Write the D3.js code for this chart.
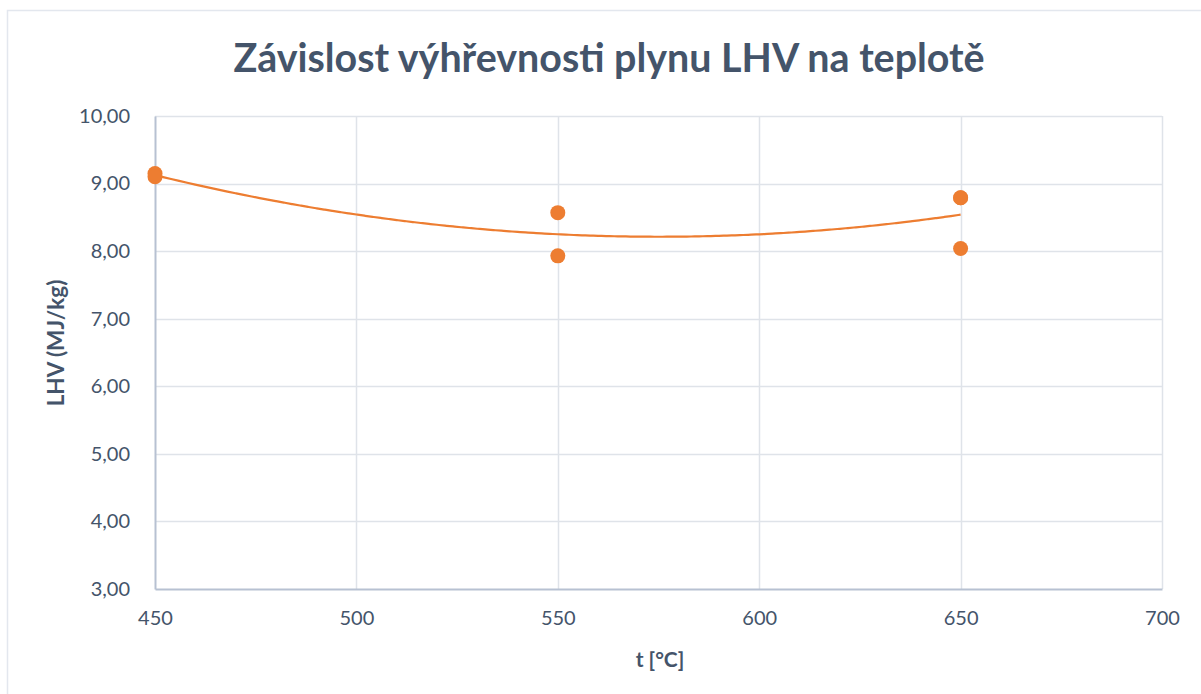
<!DOCTYPE html>
<html>
<head>
<meta charset="utf-8">
<script src="https://cdn.jsdelivr.net/npm/d3@7"></script>
<style>
  body { margin: 0; background: #fff; }
  text { font-family: Lato, "Open Sans", sans-serif; fill: #44546a; }
</style>
</head>
<body>
<div id="chart"></div>
<script>
// measured values (two runs at 450 and 550, three at 650)
let temps = [450, 450, 550, 550, 650, 650, 650];
let lhv = [9.15, 9.10, 8.57, 7.93, 8.79, 8.79, 8.04];

let xTicks = [450, 500, 550, 600, 650, 700];
let yTicks = [3, 4, 5, 6, 7, 8, 9, 10];

let title = "Závislost výhřevnosti plynu LHV na teplotě";
let xTitle = "t [°C]";
let yTitle = "LHV (MJ/kg)";

// least squares polynomial trend of order 2, like the spreadsheet trendline
function quad_fit(xs, ys) {
    let n = xs.length;
    let s = [0, 0, 0, 0, 0], t = [0, 0, 0];
    let x0 = d3.mean(xs);
    for (let i = 0; i < n; i++) {
        let u = xs[i] - x0;
        for (let k = 0; k < 5; k++) s[k] += Math.pow(u, k);
        for (let k = 0; k < 3; k++) t[k] += ys[i] * Math.pow(u, k);
    }
    let m = [[s[0], s[1], s[2], t[0]], [s[1], s[2], s[3], t[1]], [s[2], s[3], s[4], t[2]]];
    for (let c = 0; c < 3; c++) {
        for (let r = c + 1; r < 3; r++) {
            let f = m[r][c] / m[c][c];
            for (let k = c; k < 4; k++) m[r][k] -= f * m[c][k];
        }
    }
    let b = [0, 0, 0];
    for (let r = 2; r >= 0; r--) {
        let v = m[r][3];
        for (let k = r + 1; k < 3; k++) v -= m[r][k] * b[k];
        b[r] = v / m[r][r];
    }
    return x => { let u = x - x0; return b[0] + b[1] * u + b[2] * u * u; };
}

let W = 1201, H = 694;
let margin = {left: 155, right: 39, top: 116, bottom: 105};

let svg = d3.select("#chart").append("svg")
    .attr("width", W).attr("height", H);

svg.append("rect")
    .attr("x", 7.5).attr("y", 10.5)
    .attr("width", W + 10).attr("height", H + 10)
    .attr("fill", "none").attr("stroke", "#e3e7ee").attr("stroke-width", 1.5);

let x = d3.scaleLinear().domain([450, 700]).range([margin.left, W - margin.right]);
let y = d3.scaleLinear().domain([3, 10]).range([H - margin.bottom, margin.top]);

// grid
svg.append("g").selectAll("line").data(yTicks.slice(1)).join("line")
    .attr("x1", x(450)).attr("x2", x(700))
    .attr("y1", d => Math.round(y(d)) + 0.5).attr("y2", d => Math.round(y(d)) + 0.5)
    .attr("stroke", "#dfe3e9").attr("stroke-width", 1.5);
svg.append("g").selectAll("line").data(xTicks.slice(1)).join("line")
    .attr("x1", d => Math.round(x(d)) + 0.5).attr("x2", d => Math.round(x(d)) + 0.5)
    .attr("y1", y(3)).attr("y2", y(10))
    .attr("stroke", "#dfe3e9").attr("stroke-width", 1.5);

// axes
let fmt = d => d.toFixed(2).replace(".", ",");
let yAxis = svg.append("g")
    .attr("transform", `translate(${x(450)},0)`)
    .call(d3.axisLeft(y).tickValues(yTicks).tickFormat(fmt).tickSize(0).tickPadding(25));
let xAxis = svg.append("g")
    .attr("transform", `translate(0,${y(3)})`)
    .call(d3.axisBottom(x).tickValues(xTicks).tickFormat(d3.format("d")).tickSize(0).tickPadding(22));
[yAxis, xAxis].forEach(g => {
    g.select(".domain").attr("stroke", "#b7c1d2").attr("stroke-width", 2);
    g.selectAll("text").attr("font-size", 20).style("font-family", "Lato, sans-serif").attr("fill", "#44546a");
});

// trendline
let f = quad_fit(temps, lhv);
let xs = d3.range(450, 650.5, 2);
svg.append("path")
    .datum(xs)
    .attr("fill", "none").attr("stroke", "#ed7d31").attr("stroke-width", 2.2)
    .attr("d", d3.line().x(d => x(d)).y(d => y(f(d))).curve(d3.curveMonotoneX));

// points
svg.append("g").selectAll("circle").data(temps).join("circle")
    .attr("cx", d => x(d))
    .attr("cy", (d, i) => y(lhv[i]))
    .attr("r", 7.5)
    .attr("fill", "#ed7d31");

// titles
svg.append("text")
    .attr("x", 609).attr("y", 72)
    .attr("text-anchor", "middle")
    .attr("font-size", 39.4).attr("font-weight", "bold")
    .text(title);
svg.append("text")
    .attr("x", 660).attr("y", 667)
    .attr("text-anchor", "middle")
    .attr("font-size", 21).attr("font-weight", "bold")
    .text(xTitle);
svg.append("text")
    .attr("transform", "translate(64,343) rotate(-90)")
    .attr("text-anchor", "middle")
    .attr("font-size", 22.5).attr("font-weight", "bold")
    .text(yTitle);
</script>
</body>
</html>
